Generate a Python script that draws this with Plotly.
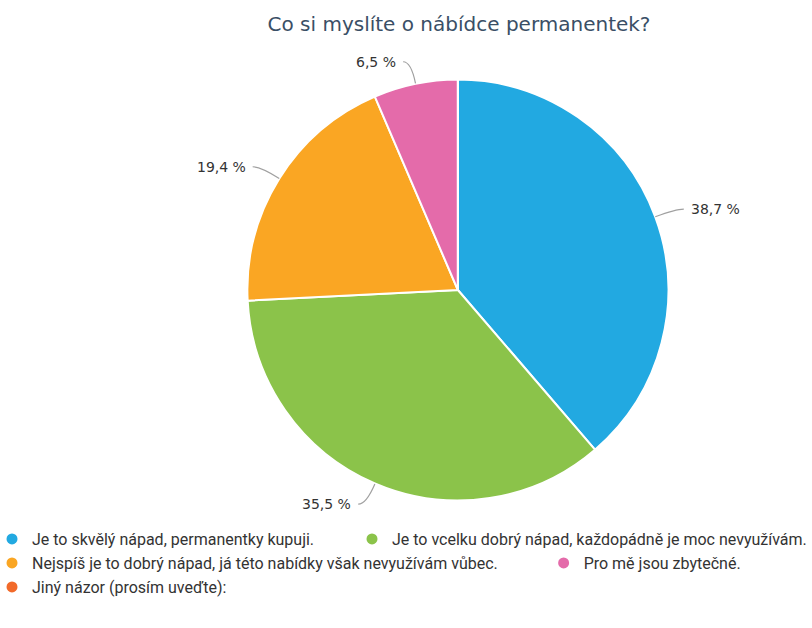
import math
import plotly.graph_objects as go

labels = [
    "Je to skvělý nápad, permanentky kupuji.",
    "Je to vcelku dobrý nápad, každopádně je moc nevyužívám.",
    "Nejspíš je to dobrý nápad, já této nabídky však nevyužívám vůbec.",
    "Pro mě jsou zbytečné.",
    "Jiný názor (prosím uveďte):",
]
counts = [12, 11, 6, 2, 0]
colors = ["#22a9e1", "#8bc34a", "#faa623", "#e46baa", "#f26a2a"]
legend_ids = ["legend", "legend2", "legend3", "legend4", "legend5"]

W, H = 812, 628
cx, cy, R = 459, 290, 211

fig = go.Figure()
fig.add_trace(go.Pie(
    labels=labels, values=counts, sort=False, direction="clockwise", rotation=0,
    marker=dict(colors=colors, line=dict(color="white", width=2)),
    textinfo="none", hoverinfo="label+percent", showlegend=False,
    domain=dict(x=[(cx - R) / W, (cx + R) / W], y=[1 - (cy + R) / H, 1 - (cy - R) / H]),
))

# legend entries
for lab, col, lg in zip(labels, colors, legend_ids):
    fig.add_trace(go.Scatter(
        x=[None], y=[None], mode="markers", name=lab, legend=lg,
        marker=dict(color=col, size=11, symbol="circle"), showlegend=True,
    ))

def px(x):
    return x / W

def py(y):
    return 1 - y / H

total = sum(counts)
cum = 0.0
shapes, annotations = [], []
for v in counts:
    frac = v / total
    if v == 0:
        continue
    mid = (cum + frac / 2) * 2 * math.pi
    cum += frac
    dx, dy = math.sin(mid), -math.cos(mid)
    ex, ey = cx + R * dx, cy + R * dy
    bx, by = cx + (R + 22) * dx, cy + (R + 22) * dy
    side = 1 if dx >= 0 else -1
    lx = bx + side * 8
    shapes.append(dict(
        type="path", xref="paper", yref="paper",
        path=f"M {px(ex)},{py(ey)} Q {px(bx)},{py(by)} {px(lx)},{py(by)}",
        line=dict(color="#a0a0a0", width=1.2),
    ))
    txt = f"{frac * 100:.1f} %".replace(".", ",")
    annotations.append(dict(
        x=px(lx + side * 5), y=py(by), xref="paper", yref="paper",
        text=txt, showarrow=False, xanchor="left" if side > 0 else "right",
        yanchor="middle", font=dict(family="DejaVu Sans", size=14, color="#333333"),
    ))

legend_common = dict(
    orientation="h", xanchor="left", yanchor="middle", itemwidth=30, indentation=-8,
    font=dict(family="Roboto", size=16, color="#333333"),
    bgcolor="rgba(0,0,0,0)", itemclick=False,
)

# legend placement (px of the legend box's left edge, row centre)
leg_pos = [(0, 539), (361, 539), (0, 563), (553, 563), (0, 587)]
legends = {lg: dict(x=px(lx), y=py(ly), **legend_common)
           for lg, (lx, ly) in zip(legend_ids, leg_pos)}

fig.update_layout(
    width=W, height=H,
    margin=dict(l=0, r=0, t=0, b=0),
    paper_bgcolor="white", plot_bgcolor="white",
    title=dict(text="Co si myslíte o nábídce permanentek?", x=cx / W, xanchor="center",
               y=1 - 24 / H, yanchor="middle",
               font=dict(family="DejaVu Sans", size=20, color="#3a4f66")),
    xaxis=dict(visible=False), yaxis=dict(visible=False),
    shapes=shapes, annotations=annotations,
    **legends,
)

fig.write_html("out.html")
